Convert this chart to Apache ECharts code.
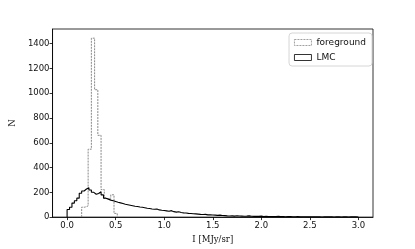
<!DOCTYPE html>
<html><head><meta charset="utf-8">
<script src="https://cdn.jsdelivr.net/npm/echarts@6/dist/echarts.min.js"></script>
<style>html,body{margin:0;padding:0;background:#fff}#c{width:415px;height:249px}</style>
</head><body><div id="c"></div>
<script>
// LMC histogram: bins of width 0.025 from 0.0 to 3.0
var lmcStart = 0.0, lmcWidth = 0.025;
var lmcCounts = [61,79,113,132,153,192,211,227,237,219,200,184,190,205,179,153,145,137,132,126,
120,115,110,104,100,96,92,88,86,82,79,76,72,70,66,63,65,58,55,53,
50,47,52,44,40,43,37,34,33,30,29,27,26,24,22,21,22,18,19,17,
16,14,16,13,12,10,9,10,8,11,9,8,7,8,10,7,6,7,6,8,
5,6,5,5,4,5,6,4,4,3,5,4,3,3,4,2,3,3,2,3,
2,2,3,2,1,2,3,2,2,1,2,2,1,2,2,1,3,2,2,1];
// foreground histogram
var fgStart = 0.15, fgWidth = 0.0333;
var fgCounts = [80,90,548,1444,1028,660,222,150,152,180,30];
var xTicks = [0,0.5,1.0,1.5,2.0,2.5,3.0];
var yTicks = [0,200,400,600,800,1000,1200,1400];

function stepData(start, width, counts){
  var d = [[start,0]];
  for (var i=0;i<counts.length;i++) d.push([+(start+(i+1)*width).toFixed(4), counts[i]]);
  d.push([+(start+counts.length*width).toFixed(4), 0]);
  return d;
}
var chart = echarts.init(document.getElementById('c'), null, {renderer:'canvas'});
var lab = {color:'#111', fontFamily:'DejaVu Sans', fontSize:8.5};
chart.setOption({
  animation:false,
  grid:{left:52,right:42,top:29,bottom:28,show:true,borderColor:'#000',borderWidth:0.8,backgroundColor:'transparent'},
  legend:{
    right:43,top:33,orient:'vertical',itemWidth:17,itemHeight:6,itemGap:6,
    backgroundColor:'#fff',borderColor:'#ccc',borderWidth:0.8,borderRadius:3,padding:[5,6,4,5],
    textStyle:{fontFamily:'DejaVu Sans',fontSize:9,color:'#111'},
    data:[
      {name:'foreground',icon:'rect',itemStyle:{color:'#fff',borderColor:'#888',borderWidth:0.8,borderType:[2,1]}},
      {name:'LMC',icon:'rect',itemStyle:{color:'#fff',borderColor:'#000',borderWidth:0.8}}
    ]
  },
  xAxis:{type:'value',min:-0.15,max:3.15,
    name:'I [MJy/sr]',nameLocation:'middle',nameGap:15,
    nameTextStyle:{fontFamily:'DejaVu Serif',fontSize:8.5,color:'#111'},
    axisLine:{onZero:false,lineStyle:{color:'#000',width:0.8}},
    axisTick:{show:true,length:3,lineStyle:{color:'#000',width:0.8},customValues:xTicks},
    axisLabel:Object.assign({margin:4,customValues:xTicks,formatter:function(v){return v.toFixed(1);}},lab),
    splitLine:{show:false}},
  yAxis:{type:'value',min:0,max:1518,
    name:'N',nameLocation:'middle',nameGap:29,nameRotate:90,
    nameTextStyle:{fontFamily:'DejaVu Serif',fontSize:8.5,color:'#111'},
    axisLine:{show:true,onZero:false,lineStyle:{color:'#000',width:0.8}},
    axisTick:{show:true,length:3,lineStyle:{color:'#000',width:0.8},customValues:yTicks},
    axisLabel:Object.assign({margin:3,customValues:yTicks,formatter:function(v){return String(v);}},lab),
    splitLine:{show:false}},
  series:[
    {name:'foreground',type:'line',step:'start',symbol:'none',data:stepData(fgStart,fgWidth,fgCounts),
     lineStyle:{color:'#888',width:1,type:[2,1]},itemStyle:{color:'#888'}},
    {name:'LMC',type:'line',step:'start',symbol:'none',data:stepData(lmcStart,lmcWidth,lmcCounts),
     lineStyle:{color:'#000',width:1.1},itemStyle:{color:'#000'}}
  ]
});
</script></body></html>
